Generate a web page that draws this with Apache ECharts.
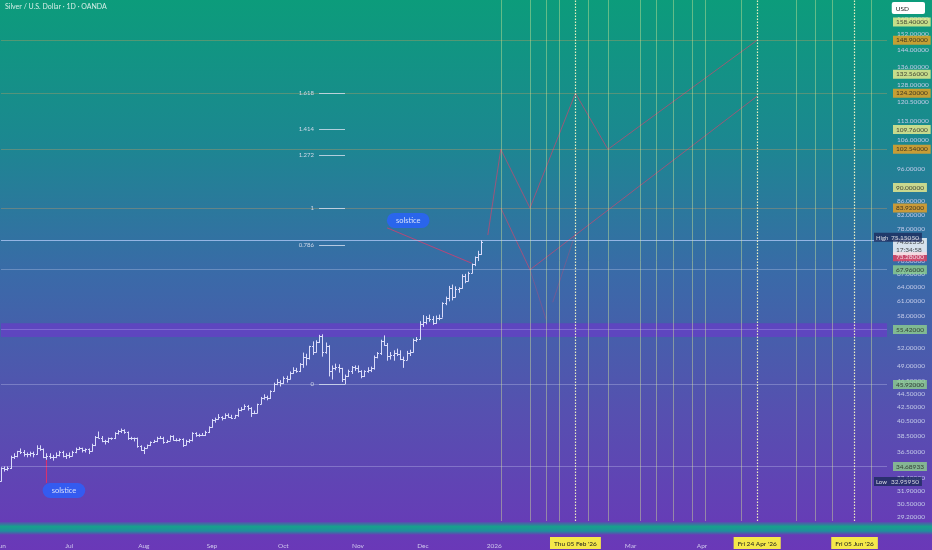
<!DOCTYPE html>
<html><head><meta charset="utf-8">
<script src="https://cdn.jsdelivr.net/npm/echarts@6/dist/echarts.min.js"></script>
<style>html,body{margin:0;padding:0;width:932px;height:550px;overflow:hidden;background:#333}#c{width:932px;height:550px}</style>
</head><body><div id="c"></div>
<script>
// ---------------- DATA ----------------
const chartTitle = 'Silver / U.S. Dollar · 1D · OANDA';
const currency = 'USD';
const firstDay = '2025-06-02';
const lastDay = '2026-06-19';
const skipDays = ['2025-12-25'];
const monthNames = ['Jan','Feb','Mar','Apr','May','Jun','Jul','Aug','Sep','Oct','Nov','Dec'];

// daily bars Jun 2 2025 .. Dec 26 2025 (trading days)
const opens = [
 33.0,34.5,34.4,34.5,35.8,36.0,36.6,36.5,36.2,36.2,36.3,36.2,37.0,36.8,35.9,36.0,35.9,35.9,36.1,36.5,36.0,
 36.1,36.0,36.4,36.8,36.9,36.7,36.8,36.6,37.4,38.4,38.3,37.8,37.9,38.2,38.2,38.9,39.2,39.3,39.0,38.2,38.2,38.2,37.2,
 36.7,37.0,37.3,37.7,37.8,38.3,38.3,37.7,37.9,38.5,38.0,38.0,38.1,37.4,37.9,38.0,38.9,38.6,38.7,38.6,39.1,
 39.7,40.6,40.8,41.1,40.9,41.3,41.1,40.9,41.3,42.1,42.2,42.7,42.4,41.6,41.7,43.0,43.8,44.0,43.9,44.9,46.0,46.3,
 46.1,47.0,46.8,47.8,48.3,48.1,49.2,50.5,50.2,52.4,51.3,53.1,54.2,51.3,52.3,48.0,48.6,48.8,48.5,46.8,47.3,48.0,48.8,
 48.6,48.1,47.2,48.0,48.2,48.5,50.5,51.1,53.3,52.6,50.6,50.8,51.2,50.9,50.1,50.0,51.2,51.3,53.4,53.6,
 56.4,56.9,57.6,57.5,56.7,57.6,57.7,60.6,61.8,63.8,62.0,63.7,63.9,66.6,65.5,67.2,69.2,70.9,71.8
];
const highs = [
 34.6,34.7,34.7,36.0,36.3,36.6,36.9,36.7,36.4,36.5,36.5,37.3,37.3,36.9,36.3,36.3,36.1,36.4,36.6,36.6,36.3,
 36.4,36.6,37.0,37.1,37.0,36.9,36.9,37.5,38.5,39.1,38.5,38.0,38.3,38.3,39.0,39.3,39.5,39.4,39.1,38.4,38.3,38.3,37.3,
 37.1,37.4,37.8,38.0,38.4,38.5,38.4,38.0,38.6,38.6,38.2,38.2,38.2,38.0,38.1,39.0,39.0,38.8,38.9,39.2,39.8,
 40.8,41.0,41.5,41.2,41.6,41.6,41.4,41.4,42.3,42.5,42.9,42.8,42.5,42.0,43.0,44.0,44.4,44.2,45.0,46.2,46.8,46.6,
 47.2,47.3,48.0,48.7,48.6,49.4,51.2,51.0,52.4,53.2,53.4,54.4,54.5,53.0,52.5,49.0,49.3,49.2,48.6,47.5,48.3,48.9,49.0,
 49.0,48.2,48.2,48.7,48.8,50.7,51.3,53.5,54.3,52.9,51.3,51.6,51.9,51.6,50.5,51.5,51.7,53.7,54.0,57.0,
 58.2,58.0,58.3,58.0,58.1,58.3,60.8,62.0,64.3,64.6,64.2,64.0,66.9,67.0,67.5,69.4,71.1,72.5,75.1505
];
const lows = [
 32.9595,34.1,34.2,34.4,35.6,35.8,36.2,35.9,35.8,35.9,35.8,36.1,36.6,35.7,35.5,35.6,35.4,35.7,35.9,35.8,35.6,
 35.7,35.9,36.3,36.7,36.4,36.4,36.2,36.5,37.2,38.2,37.7,37.4,37.6,38.0,38.1,38.7,38.9,38.8,38.0,38.0,37.8,37.0,36.6,
 36.2,36.9,37.2,37.6,37.7,38.1,37.5,37.6,37.9,37.9,37.8,37.8,37.1,37.3,37.6,37.8,38.4,38.4,38.5,38.5,38.9,
 39.6,40.3,40.7,40.6,40.8,41.0,40.8,40.9,41.1,41.9,42.1,42.0,41.1,41.5,41.6,42.9,43.6,43.5,43.7,44.8,45.8,45.6,
 46.0,46.2,46.7,47.6,47.8,47.9,48.6,49.0,50.0,50.8,51.2,52.9,50.5,51.0,47.2,46.7,48.2,47.8,46.3,45.92,47.1,47.6,48.1,
 47.8,46.9,47.1,47.8,47.9,48.3,50.2,50.8,52.4,49.8,50.0,49.8,50.6,49.9,48.6,49.9,50.6,51.2,53.1,53.5,
 55.9,56.4,56.9,56.3,56.5,57.2,57.7,60.2,61.0,61.2,61.8,62.8,63.7,64.9,65.3,67.1,68.8,70.0,71.5
];
const closes = [
 34.5,34.4,34.5,35.8,36.0,36.6,36.5,36.2,36.2,36.3,36.2,37.0,36.8,35.9,36.0,35.9,35.9,36.1,36.5,36.0,36.1,
 36.0,36.4,36.8,36.9,36.7,36.8,36.6,37.4,38.4,38.3,37.8,37.9,38.2,38.2,38.9,39.2,39.3,39.0,38.2,38.2,38.2,37.2,36.7,
 37.0,37.3,37.7,37.8,38.3,38.3,37.7,37.9,38.5,38.0,38.0,38.1,37.4,37.9,38.0,38.9,38.6,38.7,38.6,39.1,39.7,
 40.6,40.8,41.1,40.9,41.3,41.1,40.9,41.3,42.1,42.2,42.7,42.4,41.6,41.7,43.0,43.8,44.0,43.9,44.9,46.0,46.3,46.1,
 47.0,46.8,47.8,48.3,48.1,49.2,50.5,50.2,52.4,51.3,53.1,54.2,51.3,52.3,48.0,48.6,48.8,48.5,46.8,47.3,48.0,48.8,48.6,
 48.1,47.2,48.0,48.2,48.5,50.5,51.1,53.3,52.6,50.6,50.8,51.2,50.9,50.1,50.0,51.2,51.3,53.4,53.6,56.4,
 56.9,57.6,57.5,56.7,57.6,57.7,60.6,61.8,63.8,62.0,63.7,63.9,66.6,65.5,67.2,69.2,70.9,71.8,74.6135
];

// price scale
const yTicks = [29.2,30.5,31.9,33.4,36.5,38.5,40.5,42.5,44.5,46.5,49,52,58,61,64,67,70,78,82,86,96,106,113,120.5,128,136,144,152,160];
const yMin = 28.8, yMax = 170.8;
const yellowTags = [158.4,132.56,109.76,90];
const orangeTags = [148.9,124.2,102.54,83.92];
const greenTags = [67.96,55.42,45.92,34.68933];
const highValue = 75.1505, lowValue = 32.9595;
const lastPrice = 74.6135, countdown = '17:34:58';
const redTag = 73.28;
const band = [54.0, 56.6];
const faintLevels = [67.96, 45.92, 34.68933];

// fib drawing
const fibLabels = ['0','0.786','1','1.272','1.414','1.618'];
const fibPrices = [45.92,74.0,83.92,100.6,109.76,124.2];
const fibFrom = '2025-10-16', fibTo = '2025-10-28';

// time cycle lines
const cycleDates = ['2026-01-05','2026-01-16','2026-01-23','2026-01-29','2026-02-11','2026-02-19','2026-03-05','2026-03-12','2026-03-19','2026-03-27','2026-04-02','2026-04-17','2026-05-12','2026-05-20','2026-05-27','2026-06-12'];
const keyDates = ['2026-02-05','2026-04-24','2026-06-05'];
const keyLabels = ["Thu 05 Feb '26","Fri 24 Apr '26","Fri 05 Jun '26"];

// projection paths
const projA = [['2025-12-30',76.5],['2026-01-05',102.54],['2026-01-16',83.92],['2026-02-05',124.2],['2026-02-19',102.54],['2026-04-24',148.9]];
const projB = [['2026-01-05',83.92],['2026-01-16',67.96],['2026-04-24',123.0]];
const projC = [['2026-01-16',67.96],['2026-01-23',57.3]];
const projD = [['2026-01-27',60.8],['2026-02-05',77.0]];

// solstice notes
const noteText = 'solstice';
const noteJun = [['2025-06-20',35.5],['2025-06-20',32.8]];
const noteDec = [['2025-11-14',78.4],['2025-12-22',69.5]];

// ---------------- BUILD ----------------
const catDates = [];
(function(){
  let t = Date.parse(firstDay+'T00:00:00Z'); const end = Date.parse(lastDay+'T00:00:00Z');
  while (t <= end) { const d = new Date(t); const w = d.getUTCDay(); const s = d.toISOString().slice(0,10);
    if (w !== 0 && w !== 6 && skipDays.indexOf(s) < 0) catDates.push(s); t += 86400000; }
})();
const lastCat = catDates[catDates.length-1];
const bars = opens.map((o,i)=>[i,o,highs[i],lows[i],closes[i]]);

const FONT = 'Lato, "Liberation Sans", "DejaVu Sans", sans-serif';
const tagBase = {show:true, position:'right', distance:6, fontSize:6.5, lineHeight:8, padding:[1,3,0,3], fontFamily:FONT};
function tag(v, bg, fg, extra){
  return {value:[lastCat, v], label:Object.assign({}, tagBase, {formatter:v.toFixed(5), backgroundColor:bg, color:fg}, extra||{})};
}
const tagData = [];
yellowTags.forEach(v=>tagData.push(tag(v,'#f3ef8c','#1b1b1b')));
orangeTags.forEach(v=>tagData.push(tag(v,'#f1a21f','#1b1b1b')));
greenTags.forEach(v=>tagData.push(tag(v,'#8fd18c','#1b1b1b')));
tagData.push(tag(redTag,'#ec3f5c','#ffffff',{offset:[0,9]}));
tagData.push({value:[lastCat,lastPrice], label:Object.assign({},tagBase,{formatter:lastPrice.toFixed(5)+'\n'+countdown, backgroundColor:'#ffffff', color:'#1b1b1b', offset:[0,4]})});
tagData.push({value:[lastCat,highValue], label:Object.assign({},tagBase,{formatter:'{a|High}{b|'+highValue.toFixed(5)+'}', backgroundColor:'#1d2a5c', color:'#fff', padding:[1,3,0,2], offset:[-19,-3], rich:{a:{width:15,fontSize:6,color:'#fff'},b:{fontSize:6.5,color:'#fff'}}})});
tagData.push({value:[lastCat,lowValue], label:Object.assign({},tagBase,{formatter:'{a|Low}{b|'+lowValue.toFixed(5)+'}', backgroundColor:'#1d2a5c', color:'#fff', padding:[1,3,0,2], offset:[-19,0], rich:{a:{width:15,fontSize:6,color:'#fff'},b:{fontSize:6.5,color:'#fff'}}})});

const hLines = [];
orangeTags.forEach(v=>hLines.push({yAxis:v, lineStyle:{color:'rgba(225,160,90,0.32)', width:1, type:'solid'}}));
faintLevels.forEach(v=>hLines.push({yAxis:v, lineStyle:{color:'rgba(225,230,255,0.28)', width:1, type:'solid'}}));
hLines.push({yAxis:highValue, lineStyle:{color:'rgba(190,210,255,0.7)', width:1, type:'solid'}});
hLines.push({yAxis:55.42, lineStyle:{color:'rgba(200,190,255,0.3)', width:1, type:'solid'}});

const vLines = [];
cycleDates.forEach(d=>vLines.push({xAxis:d, lineStyle:{color:'rgba(220,235,150,0.42)', width:1, type:'solid'}, label:{show:false}}));
keyDates.forEach((d,i)=>vLines.push({xAxis:d, lineStyle:{color:'rgba(245,245,195,0.95)', width:1.2, type:[1.5,1.5]},
  label:{show:true, position:'start', distance:16, formatter:keyLabels[i], backgroundColor:'#f5e84a', color:'#1b1b1b', padding:[3,4,2,4], fontSize:6.5, fontFamily:FONT}}));

const fibLines = fibPrices.map((p,i)=>[
  {coord:[fibFrom,p], label:{show:true, position:'start', formatter:fibLabels[i], color:'#d0d8e8', fontSize:6, distance:5, fontFamily:FONT}},
  {coord:[fibTo,p]}
]);

const projStyle = {color:'rgba(205,70,110,0.7)', width:1};
function projSeries(d, op){ return {type:'line', data:d, symbol:'none', lineStyle:Object.assign({},projStyle,{opacity:op}), silent:true, z:4, animation:false}; }

const pill = {show:true, position:'inside', formatter:noteText, backgroundColor:'#2962ff', color:'#fff', borderRadius:8, padding:[4,9,3,9], fontSize:7.5, fontFamily:FONT};

const option = {
  animation:false,
  backgroundColor:{type:'linear',x:0,y:0,x2:0,y2:1,colorStops:[
    {offset:0,color:'#0c9c7b'},{offset:0.25,color:'#1b8890'},{offset:0.5,color:'#3a6aa8'},{offset:0.75,color:'#5650b0'},{offset:1,color:'#6a38b8'}]},
  textStyle:{fontFamily:FONT},
  grid:{left:1, right:45, top:0, bottom:29, outerBoundsMode:'none', containLabel:false},
  xAxis:{type:'category', data:catDates, boundaryGap:false,
    axisLine:{show:false}, axisTick:{show:false}, splitLine:{show:false},
    axisLabel:{color:'#cfc6ee', fontSize:6.5, margin:21, fontFamily:FONT, alignMinLabel:'center', alignMaxLabel:'center', hideOverlap:false,
      interval:function(i,v){ return i===0 || v.slice(0,7)!==catDates[i-1].slice(0,7); },
      formatter:function(v){ const m=+v.slice(5,7); return m===1 ? v.slice(0,4) : monthNames[m-1]; }}},
  yAxis:{type:'log', logBase:10, min:yMin, max:yMax, position:'right',
    axisLine:{show:false}, axisTick:{show:false}, splitLine:{show:false},
    axisLabel:{customValues:yTicks, formatter:function(v){return (+v).toFixed(5);}, color:'#c3cbe9', fontSize:6.5, margin:10, align:'left', fontFamily:FONT}},
  graphic:[
    {type:'rect', left:0, top:522, z:1, shape:{width:932,height:13}, style:{fill:{type:'linear',x:0,y:0,x2:0,y2:1,colorStops:[
      {offset:0,color:'#5b4cb0'},{offset:0.35,color:'#17a18c'},{offset:0.7,color:'#1f8f9c'},{offset:1,color:'#6a3ab6'}]}}},
    {type:'text', left:5, top:3, z:10, style:{text:chartTitle, fill:'#d6eee6', fontSize:7, fontFamily:FONT}},
    {type:'text', right:7, top:2, z:10, style:{text:currency, fill:'#1b1b1b', fontSize:6.5, fontFamily:FONT, backgroundColor:'#ffffff', padding:[3,16,2,4], borderRadius:2}}
  ],
  series:[
    {type:'line', data:[], silent:true, z:1,
      markArea:{silent:true, itemStyle:{color:'rgba(112,52,205,0.58)'}, data:[[{yAxis:band[0]},{yAxis:band[1]}]]},
      markLine:{silent:true, symbol:['none','none'], label:{show:false}, data:hLines}},
    {type:'line', data:[], silent:true, z:2,
      markLine:{silent:true, symbol:['none','none'], data:vLines}},
    {type:'line', data:[], silent:true, z:3,
      markLine:{silent:true, symbol:['none','none'], lineStyle:{color:'rgba(215,225,240,0.8)', width:1, type:'solid'}, data:fibLines}},
    projSeries(projA,1), projSeries(projB,1), projSeries(projC,0.5), projSeries(projD,0.5),
    {type:'line', data:noteJun, symbol:'none', lineStyle:{color:'#e0306a', width:1}, silent:true, z:4},
    {type:'line', data:noteDec, symbol:'none', lineStyle:{color:'rgba(215,60,110,0.8)', width:1}, silent:true, z:4},
    {type:'custom', z:5, silent:true, data:bars, encode:{x:0,y:[1,2,3,4]},
      renderItem:function(params, api){
        const i = api.value(0);
        const pO = api.coord([i, api.value(1)]), pH = api.coord([i, api.value(2)]), pL = api.coord([i, api.value(3)]), pC = api.coord([i, api.value(4)]);
        const x = Math.round(pH[0]) + 0.5;
        const st = {stroke:'#dadcfa', lineWidth:1};
        const yo = Math.round(pO[1])+0.5, yc = Math.round(pC[1])+0.5;
        return {type:'group', children:[
          {type:'line', shape:{x1:x,y1:pH[1],x2:x,y2:pL[1]}, style:st},
          {type:'line', shape:{x1:x-1.5,y1:yo,x2:x,y2:yo}, style:st},
          {type:'line', shape:{x1:x,y1:yc,x2:x+1.5,y2:yc}, style:st}
        ]};
      }},
    {type:'scatter', z:8, silent:true, clip:false, symbolSize:0, data:[
      {value:noteJun[1], label:Object.assign({}, pill, {offset:[17.5,7.5]})},
      {value:noteDec[0], label:Object.assign({}, pill, {offset:[21,-7.5]})}
    ]},
    {type:'scatter', z:9, silent:true, clip:false, symbolSize:0, data:tagData}
  ]
};
const chart = echarts.init(document.getElementById('c'), null, {renderer:'canvas'});
chart.setOption(option);
</script>
</body></html>
